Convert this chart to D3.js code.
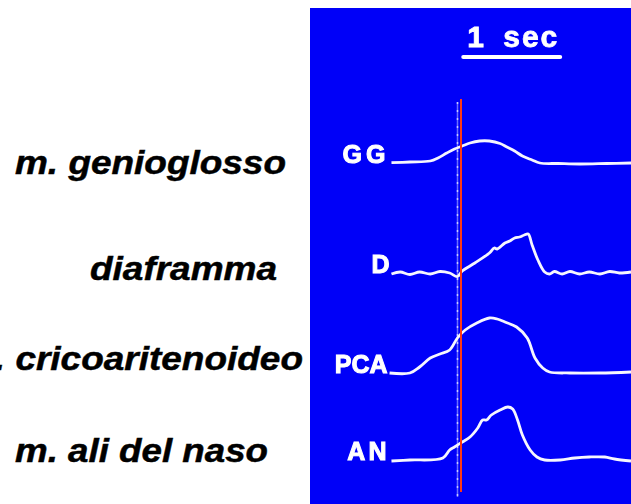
<!DOCTYPE html>
<html><head><meta charset="utf-8">
<script src="https://cdn.jsdelivr.net/npm/d3@7"></script>
<style>body{margin:0;background:#fff}svg{display:block}</style>
</head><body>
<script>
// EMG recordings: channel codes, muscle names and baseline offsets (trace units)
const channels = ["GG", "D", "PCA", "AN"];
const muscleNames = ["m. genioglosso", "diaframma", "m. cricoaritenoideo", "m. ali del naso"];
const baselines = [33.7, 22.7, 12.7, 4.0];

// Integrated activity per channel: [time (s), amplitude above baseline]
const ggTrace = [[-0.72,0.03],[-0.53,0.1],[-0.32,0.2],[-0.24,0.5],[-0.15,1.0],[-0.07,1.4],[0.01,1.7],[0.09,2.0],[0.19,2.2],[0.29,2.2],[0.40,1.95],[0.47,1.6],[0.55,1.2],[0.63,0.7],[0.73,0.3],[0.81,0.0],[1.0,-0.05],[1.22,-0.1],[1.5,-0.05],[1.75,0.0]];
const dTrace = [[-0.72,-0.1],[-0.63,0.1],[-0.53,-0.15],[-0.43,0.1],[-0.32,-0.1],[-0.22,0.15],[-0.12,0.0],[-0.04,-0.35],[0.01,0.2],[0.14,1.0],[0.29,2.0],[0.34,2.5],[0.37,2.4],[0.45,3.0],[0.50,3.2],[0.55,3.5],[0.60,3.6],[0.65,3.8],[0.69,3.9],[0.73,2.8],[0.79,1.3],[0.86,0.1],[0.91,-0.1],[0.96,0.15],[1.04,-0.1],[1.12,0.15],[1.22,-0.1],[1.32,0.1],[1.43,-0.1],[1.53,0.15],[1.63,0.0],[1.75,0.1]];
const pcaTrace = [[-0.74,0.0],[-0.53,0.0],[-0.43,0.6],[-0.32,1.5],[-0.22,1.9],[-0.12,2.3],[-0.04,3.5],[0.04,4.3],[0.16,5.0],[0.29,5.5],[0.37,5.4],[0.45,5.1],[0.57,4.6],[0.68,3.5],[0.76,1.5],[0.84,0.5],[0.91,0.1],[1.12,0.0],[1.43,0.0],[1.75,0.1]];
const anTrace = [[-0.72,-0.1],[-0.53,0.0],[-0.19,0.2],[-0.12,1.0],[-0.07,1.3],[0.01,1.8],[0.09,2.3],[0.17,3.2],[0.22,4.0],[0.26,4.0],[0.31,4.5],[0.40,5.0],[0.48,5.3],[0.53,5.1],[0.58,4.0],[0.63,2.5],[0.71,1.0],[0.78,0.3],[0.86,0.0],[1.02,0.0],[1.17,0.2],[1.32,0.3],[1.48,0.3],[1.58,0.1],[1.75,-0.1]];
const traces = [ggTrace, dTrace, pcaTrace, anTrace];

// Event markers (s) and time calibration bar
const onsetTime = 0;
const inspTime = -0.04;
const scaleBar = [0.02, 1.02];
const scaleLabel = "1 sec";

const W = 631, H = 504;
const svg = d3.select("body").append("svg").attr("width", W).attr("height", H);

const x = d3.scaleLinear().domain([-1.56, 1.75]).range([310, 631]);
const y = d3.scaleLinear().domain([0, 40]).range([500, 100]);

// soft scan look for the recording panel
const defs = svg.append("defs");
defs.append("filter").attr("id", "soft").append("feGaussianBlur").attr("stdDeviation", 0.45);

const panel = svg.append("g");
panel.append("rect").attr("x", 310).attr("y", 8).attr("width", W - 310).attr("height", H - 8).attr("fill", "#0000f8");

const ink = panel.append("g").attr("filter", "url(#soft)");

// calibration bar
ink.append("line")
  .attr("x1", x(scaleBar[0])).attr("x2", x(scaleBar[1]))
  .attr("y1", 57).attr("y2", 57)
  .attr("stroke", "#fff").attr("stroke-width", 4).attr("stroke-linecap", "round");
ink.append("text")
  .attr("x", x(scaleBar[0]) + 4).attr("y", 47)
  .attr("font-family", "Liberation Sans, Arial, sans-serif").attr("font-weight", "bold")
  .attr("font-size", 30).attr("fill", "#fff")
  .attr("stroke", "#fff").attr("stroke-width", 0.8)
  .attr("letter-spacing", 2).attr("word-spacing", 7)
  .text(scaleLabel);

// dashed inspiratory marker
const xi = Math.round(x(inspTime)) + 0.5;
ink.append("line")
  .attr("x1", xi).attr("x2", xi).attr("y1", 102).attr("y2", 497)
  .attr("stroke", "#6c70ff").attr("stroke-width", 1.5);
ink.append("line")
  .attr("x1", xi).attr("x2", xi).attr("y1", 102).attr("y2", 497)
  .attr("stroke", "#c8caff").attr("stroke-width", 1.5).attr("stroke-dasharray", "2,6");

// traces
const line = d3.line().x(d => x(d[0])).curve(d3.curveCatmullRom.alpha(0.5));
traces.forEach((tr, i) => {
  ink.append("path")
    .attr("d", line.y(d => y(baselines[i] + d[1]))(tr))
    .attr("fill", "none").attr("stroke", "#f6f6ff").attr("stroke-width", 2.8)
    .attr("stroke-linejoin", "round");
});

// channel codes
const codeSpacing = [4, 0, 0, 3];
channels.forEach((c, i) => {
  ink.append("text")
    .attr("x", x(traces[i][0][0]) - 2).attr("y", y(baselines[i]) - 0.5)
    .attr("text-anchor", "end")
    .attr("font-family", "Liberation Sans, Arial, sans-serif").attr("font-weight", "bold")
    .attr("font-size", 25).attr("fill", "#fff")
    .attr("stroke", "#fff").attr("stroke-width", 1)
    .attr("letter-spacing", codeSpacing[i])
    .text(c);
});

// onset marker
const xo = Math.round(x(onsetTime));
panel.append("line")
  .attr("x1", xo).attr("x2", xo).attr("y1", 99).attr("y2", 492)
  .attr("stroke", "#ff3a14").attr("stroke-width", 2);

// muscle names on the left
const nameRight = [286, 277, 303, 268];
const nameBase = [174, 280, 370, 462];
const nameWidths = [271, 187, 341, 253];
muscleNames.forEach((n, i) => {
  svg.append("text")
    .attr("x", nameRight[i]).attr("y", nameBase[i])
    .attr("text-anchor", "end")
    .attr("font-family", "Liberation Sans, Arial, sans-serif")
    .attr("font-weight", "bold").attr("font-style", "italic")
    .attr("font-size", 34).attr("fill", "#000")
    .attr("stroke", "#000").attr("stroke-width", 0.5)
    .attr("textLength", nameWidths[i]).attr("lengthAdjust", "spacingAndGlyphs")
    .text(n);
});
</script>
</body></html>
